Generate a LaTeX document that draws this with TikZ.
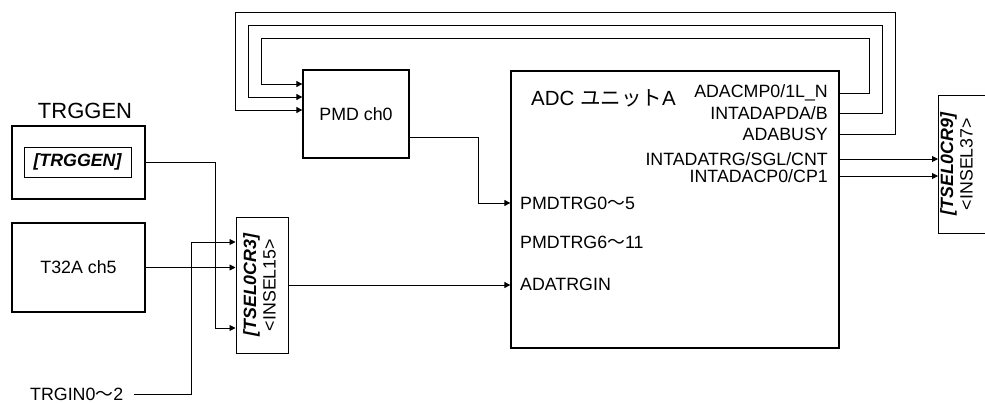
\documentclass[tikz,border=0pt]{standalone}
\usepackage{fontspec}
\setmainfont{Liberation Sans}
\newfontfamily\jpfont{Noto Sans CJK JP}
\usetikzlibrary{arrows.meta, positioning, calc}
\newcommand{\sigfont}{\fontsize{17.8}{19.5}\selectfont}
\newcommand{\selname}[2]{\rotatebox{90}{\begin{tabular}{@{}c@{}}{\bfseries\itshape #1}\\#2\end{tabular}}}

\begin{document}
\begin{tikzpicture}[x=1pt, y=-1pt,
  blk/.style={draw, line width=1.3pt, inner sep=0pt, font=\sigfont},
  selbox/.style={draw, line width=1pt, inner sep=0pt, font=\sigfont},
  lbl/.style={inner sep=0pt, font=\sigfont},
  sig/.style={line width=0.9pt, -{Triangle[length=6pt,width=6pt]}}
]
\clip (0,0) rectangle (985,402);

% Trigger sources
\node[lbl, font=\fontsize{22}{24}\selectfont] (trggenTitle) at (85,111) {TRGGEN};
\node[blk, minimum width=133, minimum height=73] (trggen) at (78.5,162.5) {};
\node[selbox, minimum width=107, minimum height=30, font=\sigfont\bfseries\itshape] (trggenSel) at (77.5,162) {[TRGGEN]};
\node[blk, minimum width=133, minimum height=89] (t32a) at (78.5,267.5) {T32A ch5};
\node[lbl, anchor=west] (trgin) at (30,394) {TRGIN0{\jpfont ～}2};

% Selector for ADATRGIN
\node[selbox, minimum width=52, minimum height=136] (tsel3) at (262,285) {\selname{[TSEL0CR3]}{<INSEL15>}};

% PMD and ADC
\node[blk, minimum width=106, minimum height=88] (pmd) at (356,114) {PMD ch0};
\node[blk, minimum width=328, minimum height=277] (adc) at (675,209.5) {};
\node[lbl, anchor=west, font=\fontsize{20.5}{24}\selectfont] (adcTitle) at (531,98) {ADC {\jpfont ユニット}A};

\node[lbl, anchor=east] (cmp) at (828,93) {ADACMP0/1L\_N};
\node[lbl, anchor=east] (pda) at (828,113) {INTADAPDA/B};
\node[lbl, anchor=east] (busy) at (828,134) {ADABUSY};
\node[lbl, anchor=east] (trgout) at (828,159) {INTADATRG/SGL/CNT};
\node[lbl, anchor=east] (cpout) at (828,176) {INTADACP0/CP1};
\node[lbl, anchor=west] (pmdtrgA) at (520,203) {PMDTRG0{\jpfont ～}5};
\node[lbl, anchor=west] (pmdtrgB) at (520,242) {PMDTRG6{\jpfont ～}11};
\node[lbl, anchor=west] (adatrgin) at (520,284) {ADATRGIN};

% Selector for outputs
\node[selbox, anchor=north west, minimum width=70, minimum height=138] (tsel9) at (938,95) {};
\node[lbl] (tsel9Text) at (959,164) {\selname{[TSEL0CR9]}{<INSEL37>}};

% Inputs to TSEL0CR3
\coordinate (tselInA) at ([yshift=43pt]tsel3.west);
\coordinate (tselInC) at ([yshift=-43pt]tsel3.west);
\draw[sig] (trggen.east) -| ([xshift=-20pt]tselInC) -- (tselInC);
\draw[sig] (t32a.east) -- (t32a.east -| tsel3.west);
\draw[sig] ([xshift=11pt]trgin.east) -| ([xshift=-44pt]tselInA) -- (tselInA);
\draw[sig] (tsel3.east) -- (tsel3.east -| adc.west);

% PMD trigger
\coordinate (pmdOut) at ([yshift=-23pt]pmd.east);
\draw[sig] (pmdOut) -| ([xshift=-32pt]adc.west |- pmdtrgA) -- (adc.west |- pmdtrgA);

% Feedback to PMD
\foreach \p [count=\i from 0] in {cmp, pda, busy} {
  \draw[sig] (adc.east |- \p) -| (869+13*\i, 38-13*\i) -| (261-13*\i, 84+13*\i) -- ([yshift={30-13*\i}]pmd.west);
}

% Outputs to TSEL0CR9
\draw[sig] (adc.east |- trgout) -- (tsel9.west |- trgout);
\draw[sig] (adc.east |- cpout) -- (tsel9.west |- cpout);

\end{tikzpicture}
\end{document}
